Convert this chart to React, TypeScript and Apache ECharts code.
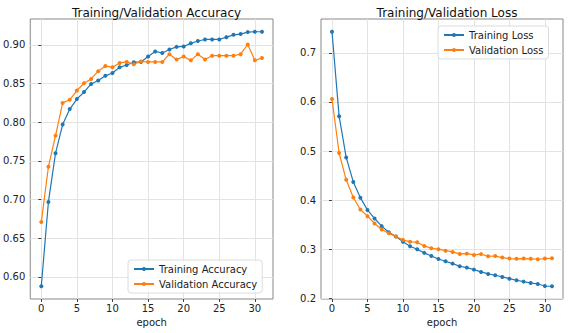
import React, { useEffect, useRef } from "react";
import * as echarts from "echarts";

const epochs = Array.from({ length: 32 }, (_, i) => i);
const xTicks = [0, 5, 10, 15, 20, 25, 30];
const accTicks = [0.6, 0.65, 0.7, 0.75, 0.8, 0.85, 0.9];
const lossTicks = [0.2, 0.3, 0.4, 0.5, 0.6, 0.7];

const trainAcc = [
  0.588, 0.697, 0.76, 0.797, 0.817, 0.83, 0.839, 0.8495, 0.854, 0.86, 0.8637, 0.871,
  0.874, 0.8776, 0.878, 0.885, 0.8914, 0.8896, 0.894, 0.8974, 0.898, 0.902, 0.905,
  0.907, 0.907, 0.907, 0.91, 0.913, 0.914, 0.9165, 0.917, 0.917,
];
const valAcc = [
  0.671, 0.7425, 0.7827, 0.825, 0.829, 0.841, 0.8504, 0.856, 0.866, 0.8728, 0.871,
  0.8767, 0.878, 0.875, 0.8785, 0.878, 0.878, 0.878, 0.888, 0.881, 0.885, 0.88, 0.888,
  0.881, 0.886, 0.886, 0.886, 0.886, 0.888, 0.9005, 0.88, 0.883,
];
const trainLoss = [
  0.743, 0.571, 0.487, 0.437, 0.405, 0.38, 0.3625, 0.347, 0.3347, 0.3257, 0.315, 0.306,
  0.3, 0.2925, 0.2863, 0.28, 0.2755, 0.2706, 0.2653, 0.2625, 0.2584, 0.2537, 0.2496,
  0.247, 0.2435, 0.24, 0.2367, 0.234, 0.2312, 0.2292, 0.225, 0.2245,
];
const valLoss = [
  0.606, 0.496, 0.4414, 0.4053, 0.381, 0.3673, 0.3523, 0.34, 0.3327, 0.3257, 0.319, 0.315,
  0.3143, 0.3067, 0.302, 0.3, 0.297, 0.2945, 0.2904, 0.291, 0.2884, 0.29, 0.2857, 0.286,
  0.283, 0.281, 0.2805, 0.281, 0.2805, 0.2795, 0.281, 0.2815,
];

const FONT = "DejaVu Sans";
const BLUE = "#1f77b4";
const ORANGE = "#ff7f0e";

export default function App() {
  const ref = useRef<HTMLDivElement>(null);
  useEffect(() => {
    if (!ref.current) return;
    const chart = echarts.init(ref.current, undefined, { renderer: "svg" });
    const pad = (arr: number[]) => {
      const mn = Math.min(...arr), mx = Math.max(...arr);
      const m = (mx - mn) * 0.05;
      return [mn - m, mx + m];
    };
    const accR = pad([...trainAcc, ...valAcc]);
    const lossR = pad([...trainLoss, ...valLoss]);
    const xR = [-(31 * 0.05), 31 * 1.05];

    const xAxisBase = (gridIndex: number) => ({
      type: "value" as const,
      gridIndex,
      min: xR[0],
      max: xR[1],
      name: "epoch",
      nameLocation: "middle" as const,
      nameGap: 13,
      nameTextStyle: { fontFamily: FONT, fontSize: 10, color: "#222" },
      axisLine: { show: false },
      axisTick: { show: true, length: 3, customValues: xTicks, lineStyle: { color: "#444" } },
      axisLabel: {
        customValues: xTicks,
        fontFamily: FONT,
        fontSize: 10,
        color: "#222",
        margin: 4,
      },
      splitLine: { show: true, lineStyle: { color: "#e3e3e3", width: 1 } },
    });
    const yAxisBase = (gridIndex: number, r: number[], ticks: number[], dec: number) => ({
      type: "value" as const,
      gridIndex,
      min: r[0],
      max: r[1],
      axisLine: { show: false },
      axisTick: { show: true, length: 3, customValues: ticks, lineStyle: { color: "#444" } },
      axisLabel: {
        customValues: ticks,
        fontFamily: FONT,
        fontSize: 10,
        color: "#222",
        margin: 5,
        formatter: (v: number) => v.toFixed(dec),
      },
      splitLine: { show: true, lineStyle: { color: "#e3e3e3", width: 1 } },
    });
    const line = (name: string, data: number[], color: string, xi: number, yi: number) => ({
      type: "line" as const,
      name,
      xAxisIndex: xi,
      yAxisIndex: yi,
      data: epochs.map((e, i) => [e, data[i]]),
      symbol: "circle",
      symbolSize: 4,
      showSymbol: true,
      lineStyle: { color, width: 1.2 },
      itemStyle: { color },
    });
    const legendBase = {
      orient: "vertical" as const,
      backgroundColor: "rgba(255,255,255,0.85)",
      borderColor: "#dcdcdc",
      borderWidth: 1,
      borderRadius: 3,
      padding: [4, 5, 4, 5],
      itemGap: 5,
      itemWidth: 20,
      itemHeight: 5,
      textStyle: { fontFamily: FONT, fontSize: 10, color: "#222" },
    };

    chart.setOption({
      animation: false,
      backgroundColor: "#fff",
      title: [
        {
          text: "Training/Validation Accuracy",
          left: 151.5,
          textAlign: "center",
          top: 2,
          textStyle: { fontFamily: FONT, fontSize: 12, fontWeight: "normal", color: "#111" },
        },
        {
          text: "Training/Validation Loss",
          left: 442,
          textAlign: "center",
          top: 2,
          textStyle: { fontFamily: FONT, fontSize: 12, fontWeight: "normal", color: "#111" },
        },
      ],
      grid: [
        { left: 30, top: 19, width: 243, height: 280, show: true, borderColor: "#888", borderWidth: 1, backgroundColor: "transparent" },
        { left: 321, top: 19, width: 242, height: 280, show: true, borderColor: "#888", borderWidth: 1, backgroundColor: "transparent" },
      ],
      xAxis: [xAxisBase(0), xAxisBase(1)],
      yAxis: [yAxisBase(0, accR, accTicks, 2), yAxisBase(1, lossR, lossTicks, 1)],
      legend: [
        { ...legendBase, data: ["Training Accuracy", "Validation Accuracy"], left: 128, top: 260 },
        { ...legendBase, data: ["Training Loss", "Validation Loss"], left: 438, top: 26 },
      ],
      series: [
        line("Training Accuracy", trainAcc, BLUE, 0, 0),
        line("Validation Accuracy", valAcc, ORANGE, 0, 0),
        line("Training Loss", trainLoss, BLUE, 1, 1),
        line("Validation Loss", valLoss, ORANGE, 1, 1),
      ],
    });
    return () => chart.dispose();
  }, []);
  return <div ref={ref} style={{ width: 573, height: 333, position: "absolute", left: 0, top: 0 }} />;
}
